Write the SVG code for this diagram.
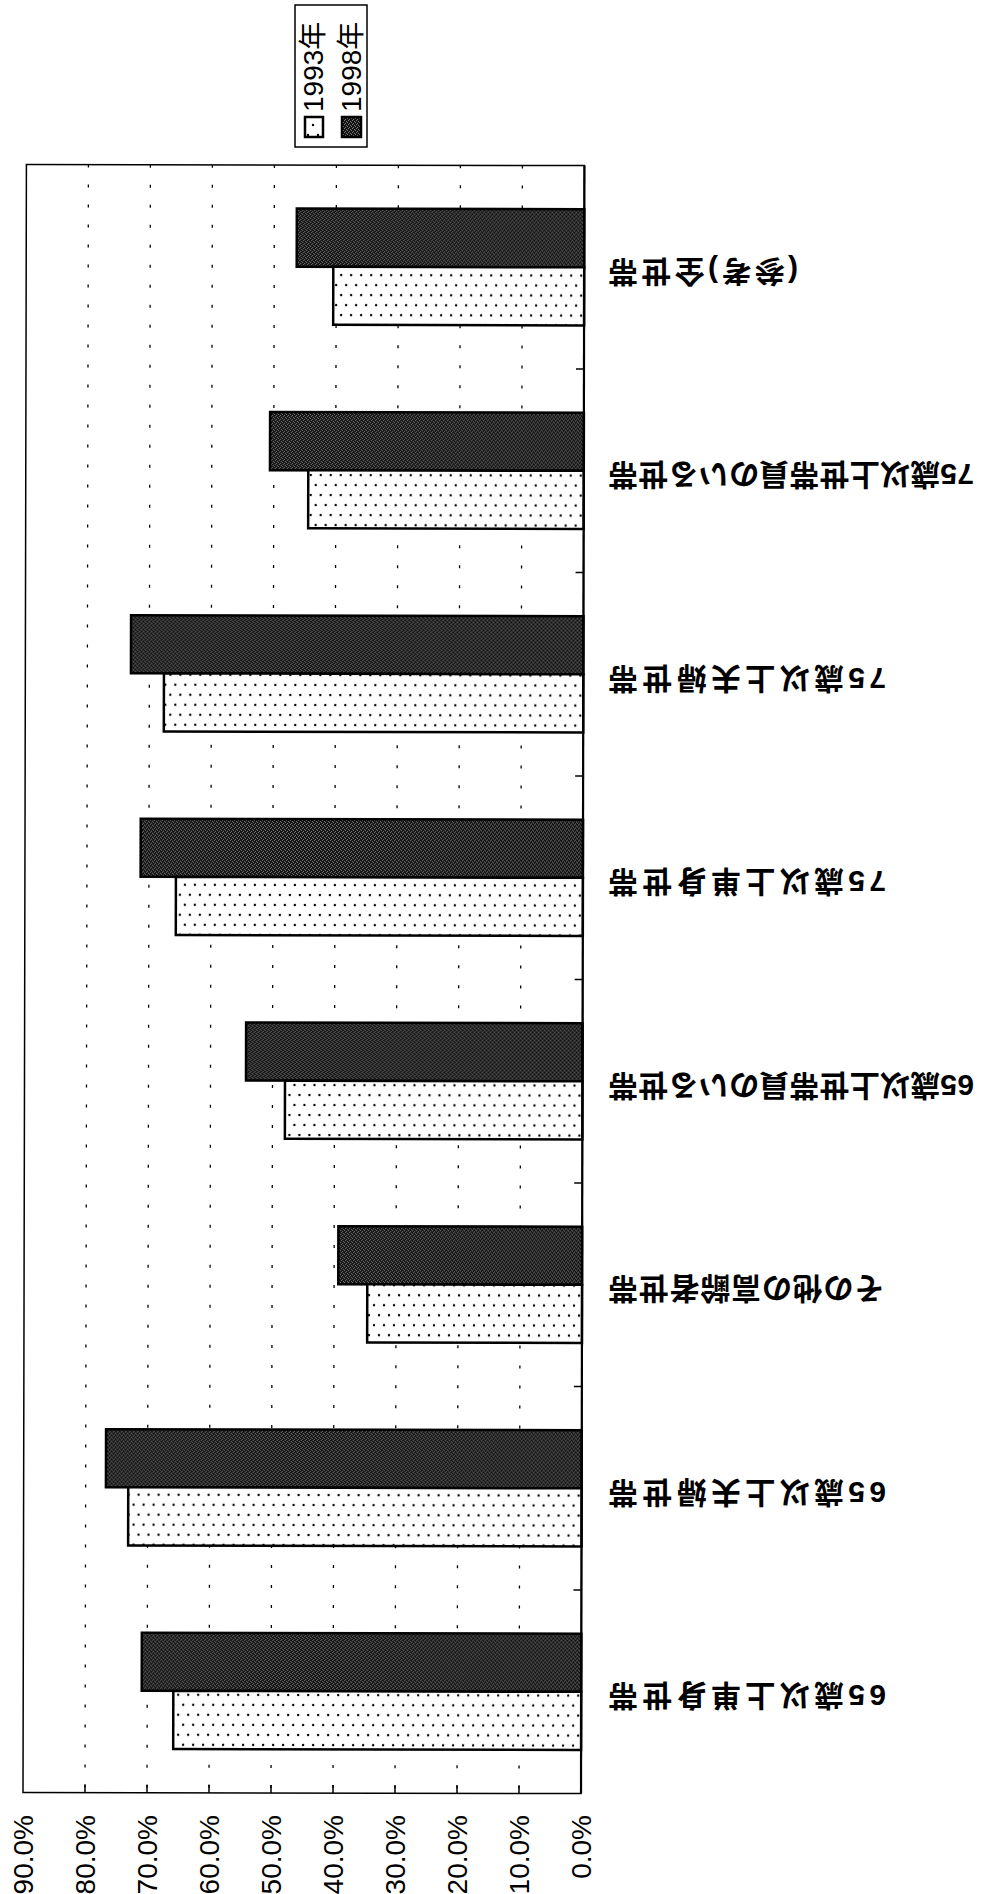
<svg xmlns="http://www.w3.org/2000/svg" width="1000" height="1894" viewBox="0 0 1000 1894">
<defs>
<pattern id="dark" width="4" height="4" patternUnits="userSpaceOnUse">
<rect width="4" height="4" fill="#141414"/>
<rect x="0" y="0" width="1" height="1" fill="#7a7a7a"/>
<rect x="2" y="1" width="1" height="1" fill="#7a7a7a"/>
<rect x="1" y="3" width="1" height="1" fill="#7a7a7a"/>
<rect x="3" y="2" width="1" height="1" fill="#7a7a7a"/>
</pattern>
<pattern id="dots" width="10" height="20" patternUnits="userSpaceOnUse">
<rect width="10" height="20" fill="#fff"/>
<circle cx="3" cy="5" r="1.2" fill="#000"/>
<circle cx="8" cy="15" r="1.2" fill="#000"/>
</pattern>
</defs>
<style>
.t{font-family:"Liberation Sans","Noto Sans CJK JP",sans-serif;fill:#000}
.cat{font-size:30px;font-weight:bold}
.ax{font-size:28px}
.frame{fill:none;stroke:#000;stroke-width:1.5}
.grid{stroke:#000;stroke-width:1.3;stroke-dasharray:3 17}
.b98{fill:url(#dark);stroke:#000;stroke-width:2.5}
.b93{fill:url(#dots);stroke:#000;stroke-width:2.5}
.tick{stroke:#000;stroke-width:1.5}
</style>
<rect width="1000" height="1894" fill="#fff"/>

<g id="legend">
<rect x="295" y="5" width="72" height="142" fill="#fff" stroke="#000" stroke-width="1.5"/>
<rect x="305" y="117" width="18" height="20" class="b93" stroke-width="2"/>
<rect x="342" y="117" width="19" height="20" class="b98" stroke-width="2"/>
<text class="t ax" transform="translate(323,112) rotate(-90)">1993年</text>
<text class="t ax" transform="translate(361,112) rotate(-90)">1998年</text>
</g>

<g id="plot" transform="rotate(0.12 300 1793)">
<g id="gridlines">
<line class="grid" x1="519" y1="165" x2="519" y2="1793"/>
<line class="grid" x1="457" y1="165" x2="457" y2="1793"/>
<line class="grid" x1="395" y1="165" x2="395" y2="1793"/>
<line class="grid" x1="333" y1="165" x2="333" y2="1793"/>
<line class="grid" x1="271" y1="165" x2="271" y2="1793"/>
<line class="grid" x1="209" y1="165" x2="209" y2="1793"/>
<line class="grid" x1="147" y1="165" x2="147" y2="1793"/>
<line class="grid" x1="85" y1="165" x2="85" y2="1793"/>
</g>
<g id="bars">
<g id="cat-1-bars">
<rect class="b98" x="293.5" y="208.6" width="287.5" height="58.1"/>
<rect class="b93" x="330.1" y="266.7" width="250.9" height="58.1"/>
</g>
<g id="cat-2-bars">
<rect class="b98" x="267.2" y="412.1" width="313.8" height="58.1"/>
<rect class="b93" x="305.5" y="470.2" width="275.5" height="58.1"/>
</g>
<g id="cat-3-bars">
<rect class="b98" x="128.6" y="615.6" width="452.4" height="58.1"/>
<rect class="b93" x="161.6" y="673.7" width="419.4" height="58.1"/>
</g>
<g id="cat-4-bars">
<rect class="b98" x="138.7" y="819.1" width="442.3" height="58.1"/>
<rect class="b93" x="174.0" y="877.2" width="407.0" height="58.1"/>
</g>
<g id="cat-5-bars">
<rect class="b98" x="244.5" y="1022.6" width="336.5" height="58.1"/>
<rect class="b93" x="283.5" y="1080.7" width="297.5" height="58.1"/>
</g>
<g id="cat-6-bars">
<rect class="b98" x="337.2" y="1226.1" width="243.8" height="58.1"/>
<rect class="b93" x="366.2" y="1284.2" width="214.8" height="58.1"/>
</g>
<g id="cat-7-bars">
<rect class="b98" x="105.3" y="1429.6" width="475.7" height="58.1"/>
<rect class="b93" x="127.6" y="1487.7" width="453.4" height="58.1"/>
</g>
<g id="cat-8-bars">
<rect class="b98" x="141.5" y="1633.1" width="439.5" height="58.1"/>
<rect class="b93" x="173.1" y="1691.2" width="407.9" height="58.1"/>
</g>
</g>
<g id="axes">
<rect class="frame" x="23" y="165" width="558" height="1628"/>
<line x1="581" y1="165" x2="581" y2="1793" stroke="#000" stroke-width="2.2"/>
<line class="tick" x1="573" y1="368.5" x2="581" y2="368.5"/>
<line class="tick" x1="573" y1="572" x2="581" y2="572"/>
<line class="tick" x1="573" y1="775.5" x2="581" y2="775.5"/>
<line class="tick" x1="573" y1="979" x2="581" y2="979"/>
<line class="tick" x1="573" y1="1182.5" x2="581" y2="1182.5"/>
<line class="tick" x1="573" y1="1386" x2="581" y2="1386"/>
<line class="tick" x1="573" y1="1589.5" x2="581" y2="1589.5"/>
<line class="tick" x1="519" y1="1785" x2="519" y2="1793"/>
<line class="tick" x1="457" y1="1785" x2="457" y2="1793"/>
<line class="tick" x1="395" y1="1785" x2="395" y2="1793"/>
<line class="tick" x1="333" y1="1785" x2="333" y2="1793"/>
<line class="tick" x1="271" y1="1785" x2="271" y2="1793"/>
<line class="tick" x1="209" y1="1785" x2="209" y2="1793"/>
<line class="tick" x1="147" y1="1785" x2="147" y2="1793"/>
<line class="tick" x1="85" y1="1785" x2="85" y2="1793"/>
</g>
</g>

<g id="category-labels" class="t cat" text-anchor="end">
<text id="cat-1" transform="translate(608,260.5) rotate(180)" textLength="190" lengthAdjust="spacing">(参考)全世帯</text>
<text id="cat-2" transform="translate(608,464) rotate(180)" textLength="366" lengthAdjust="spacing">75歳以上世帯員のいる世帯</text>
<text id="cat-3" transform="translate(608,667.5) rotate(180)" textLength="278" lengthAdjust="spacing">75歳以上夫婦世帯</text>
<text id="cat-4" transform="translate(608,871) rotate(180)" textLength="278" lengthAdjust="spacing">75歳以上単身世帯</text>
<text id="cat-5" transform="translate(608,1074.5) rotate(180)" textLength="366" lengthAdjust="spacing">65歳以上世帯員のいる世帯</text>
<text id="cat-6" transform="translate(608,1278) rotate(180)" textLength="276" lengthAdjust="spacing">その他の高齢者世帯</text>
<text id="cat-7" transform="translate(608,1481.5) rotate(180)" textLength="278" lengthAdjust="spacing">65歳以上夫婦世帯</text>
<text id="cat-8" transform="translate(608,1685) rotate(180)" textLength="278" lengthAdjust="spacing">65歳以上単身世帯</text>
</g>

<g id="value-labels" class="t ax" text-anchor="end">
<text transform="translate(32.5,1815) rotate(-90)">90.0%</text>
<text transform="translate(94.5,1815) rotate(-90)">80.0%</text>
<text transform="translate(156.5,1815) rotate(-90)">70.0%</text>
<text transform="translate(218.5,1815) rotate(-90)">60.0%</text>
<text transform="translate(280.5,1815) rotate(-90)">50.0%</text>
<text transform="translate(342.5,1815) rotate(-90)">40.0%</text>
<text transform="translate(404.5,1815) rotate(-90)">30.0%</text>
<text transform="translate(466.5,1815) rotate(-90)">20.0%</text>
<text transform="translate(528.5,1815) rotate(-90)">10.0%</text>
<text transform="translate(590.5,1815) rotate(-90)">0.0%</text>
</g>
</svg>
